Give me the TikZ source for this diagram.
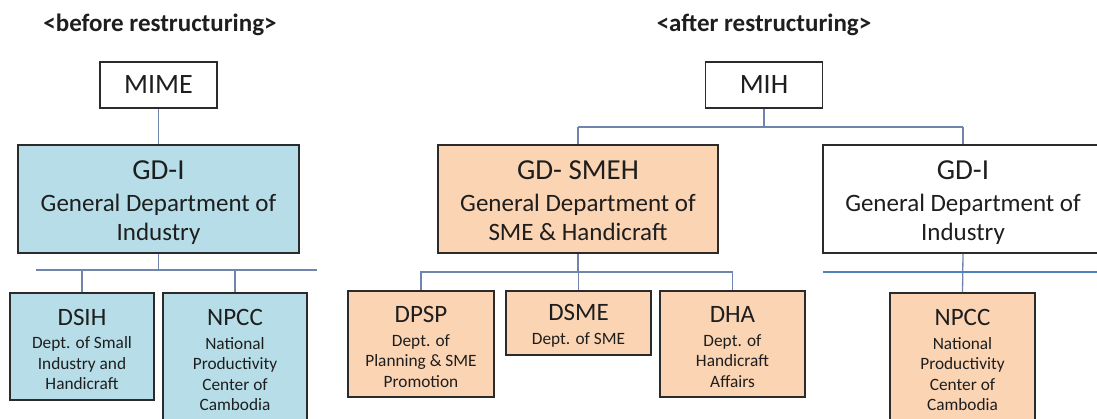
\documentclass[tikz,border=0pt]{standalone}
\usepackage{fontspec}
\setmainfont{Carlito}
\definecolor{bluefill}{HTML}{B7DEE8}
\definecolor{orangefill}{HTML}{FBD4B4}
\definecolor{boxline}{HTML}{2B2B2B}
\definecolor{connline}{HTML}{7085AD}
\definecolor{busblue}{HTML}{4F81BD}
\definecolor{txt}{HTML}{1E1E1E}
\newcommand{\bigtitle}{\fontsize{29}{30}\selectfont}
\newcommand{\chtitlefont}{\fontsize{25}{26}\selectfont\rule{0pt}{22pt}}
\tikzset{
  orgbox/.style={draw=boxline, line width=1.6pt, inner sep=0pt, align=center, text=txt},
  topbox/.style={orgbox, fill=white, minimum width=117pt, minimum height=46pt, font=\fontsize{28}{30}\selectfont},
  gdbox/.style={orgbox, minimum width=281pt, minimum height=108pt, font=\fontsize{25}{29}\selectfont},
  childbox/.style={orgbox, minimum width=145pt, font=\fontsize{17.3}{20.5}\selectfont},
  conn/.style={draw=connline, line width=1.3pt},
  header/.style={font=\bfseries\fontsize{25}{28}\selectfont, text=txt, inner sep=0pt, anchor=base},
}
\begin{document}
\begin{tikzpicture}[x=1pt,y=-1pt]
\useasboundingbox (0,0) rectangle (1097,418);
\clip (0,0) rectangle (1097,418);
% headers
\node[header] (h1) at (160,31) {<before restructuring>};
\node[header] (h2) at (764,31) {<after restructuring>};
% before
\node[topbox] (mime) at (158.5,85) {MIME};
\node[gdbox, fill=bluefill] (gdi1) at (158.5,199) {{\bigtitle\rule{0pt}{27pt}GD-I}\\[3pt]General Department of\\Industry};
\node[childbox, fill=bluefill, minimum width=144pt, minimum height=107pt] (dsih) at (82,346.5) {{\chtitlefont DSIH}\\[3pt]Dept. of Small\\Industry and\\Handicraft};
\node[childbox, fill=bluefill, minimum width=144pt, minimum height=129pt] (npcc1) at (235,357.5) {{\chtitlefont NPCC}\\[3pt]National\\Productivity\\Center of\\Cambodia};
\coordinate (busL1) at (36,270);
\coordinate (busR1) at (317,270);
\draw[conn] (mime.south) -- (gdi1.north);
\draw[conn] (gdi1.south) -- (gdi1.south |- busL1);
\draw[conn] (busL1) -- (busR1);
\draw[conn] (dsih.north) -- (dsih.north |- busL1);
\draw[conn] (npcc1.north) -- (npcc1.north |- busL1);
% after
\node[topbox] (mih) at (764,85) {MIH};
\node[gdbox, fill=orangefill, minimum width=280pt] (gdsmeh) at (578,199) {{\bigtitle\rule{0pt}{23pt}GD- SMEH}\\[3pt]General Department of\\SME \& Handicraft};
\node[gdbox, fill=white, minimum width=280pt] (gdi2) at (963,199) {{\bigtitle\rule{0pt}{27pt}GD-I}\\[3pt]General Department of\\Industry};
\node[childbox, fill=orangefill, minimum width=146pt, minimum height=106pt] (dpsp) at (421,344) {{\chtitlefont DPSP}\\[3pt]Dept. of\\Planning \& SME\\Promotion};
\node[childbox, fill=orangefill, minimum height=64pt] (dsme) at (578.5,323) {{\chtitlefont DSME}\\[3pt]Dept. of SME};
\node[childbox, fill=orangefill, minimum height=106pt] (dha) at (732.5,344) {{\chtitlefont DHA}\\[3pt]Dept. of\\Handicraft\\Affairs};
\node[childbox, fill=orangefill, minimum height=129pt] (npcc2) at (962.5,357.5) {{\chtitlefont NPCC}\\[3pt]National\\Productivity\\Center of\\Cambodia};
\coordinate (busL2) at (578,127);
\coordinate (busR2) at (963,127);
\coordinate (busL3) at (420,272);
\coordinate (busR3) at (733,272);
\coordinate (busL4) at (823,272);
\coordinate (busR4) at (1100,272);
\draw[conn] (mih.south) -- (mih.south |- busL2);
\draw[conn] (busL2) -- (busR2);
\draw[conn] (gdsmeh.north) -- (gdsmeh.north |- busL2);
\draw[conn] (gdi2.north) -- (gdi2.north |- busR2);
\draw[conn] (gdsmeh.south) -- (gdsmeh.south |- busL3);
\draw[conn] (busL3) -- (busR3);
\draw[conn] (dpsp.north) -- (dpsp.north |- busL3);
\draw[conn] (dsme.north) -- (dsme.north |- busL3);
\draw[conn] (dha.north) -- (dha.north |- busL3);
\draw[conn] (gdi2.south) -- (npcc2.north);
\draw[draw=busblue, line width=2pt] (busL4) -- (busR4);
\end{tikzpicture}
\end{document}
